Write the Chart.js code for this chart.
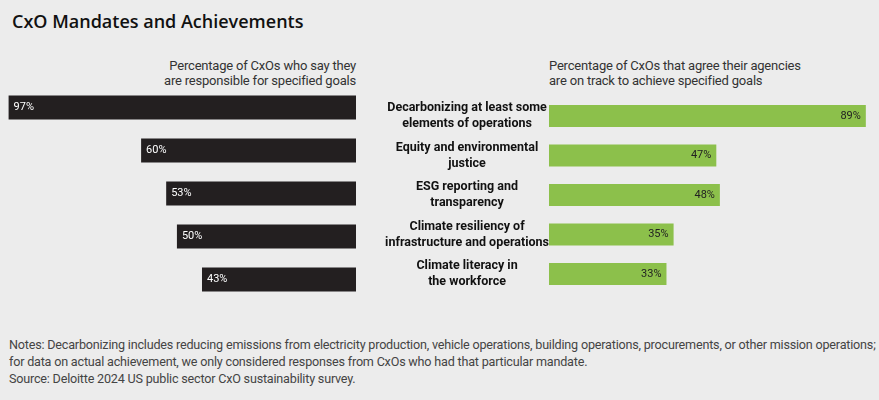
<!DOCTYPE html>
<html><head><meta charset="utf-8">
<script src="https://cdn.jsdelivr.net/npm/chart.js@4"></script>
<style>
body{margin:0;background:#ececec;width:879px;height:400px;position:relative;overflow:hidden;font-family:"Roboto",sans-serif;color:#333}
#title{position:absolute;left:12px;top:9px;font:600 18px "Open Sans",sans-serif;color:#111}
.sub{position:absolute;top:58px;font-size:13px;line-height:15px;color:#333;letter-spacing:-0.2px}
#cl{position:absolute;left:0;top:80px;width:356px;height:230px}
#cr{position:absolute;left:356px;top:80px;width:523px;height:230px}
#notes{position:absolute;left:9px;top:336px;font-size:12.6px;line-height:17px;color:#444;letter-spacing:-0.2px;white-space:nowrap}
</style></head><body>
<div id="title">CxO Mandates and Achievements</div>
<div class="sub" style="right:523px;text-align:right">Percentage of CxOs who say they<br>are responsible for specified goals</div>
<div class="sub" style="left:549px">Percentage of CxOs that agree their agencies<br>are on track to achieve specified goals</div>
<div id="cl"><canvas id="left"></canvas></div>
<div id="cr"><canvas id="right"></canvas></div>
<div id="notes">Notes: Decarbonizing includes reducing emissions from electricity production, vehicle operations, building operations, procurements, or other mission operations;<br>for data on actual achievement, we only considered responses from CxOs who had that particular mandate.<br>Source: Deloitte 2024 US public sector CxO sustainability survey.</div>
<script>
const categories = [
  ["Decarbonizing at least some", "elements of operations"],
  ["Equity and environmental", "justice"],
  ["ESG reporting and", "transparency"],
  ["Climate resiliency of", "infrastructure and operations"],
  ["Climate literacy in", "the workforce"]
];
const responsible = [97, 60, 53, 50, 43];
const onTrack = [89, 47, 48, 35, 33];

const FONT = '"Roboto",sans-serif';

const valueLabels = {
  id: "valueLabels",
  afterDatasetsDraw(chart, args, opts) {
    const ctx = chart.ctx;
    const meta = chart.getDatasetMeta(0);
    ctx.save();
    ctx.font = "11px " + FONT;
    ctx.fillStyle = opts.color;
    ctx.textBaseline = "middle";
    meta.data.forEach((bar, i) => {
      const v = chart.data.datasets[0].data[i] + "%";
      if (opts.side === "left") { ctx.textAlign = "left"; ctx.fillText(v, bar.x + 5, bar.y); }
      else { ctx.textAlign = "right"; ctx.fillText(v, bar.x - 5, bar.y); }
    });
    ctx.restore();
  }
};

function baseOpts(max, reverse) {
  return {
    indexAxis: "y", responsive: true, maintainAspectRatio: false, animation: false,
    layout: { padding: { top: 6, bottom: 9, left: 0, right: 0 } },
    plugins: { legend: { display: false }, tooltip: { enabled: false } },
    scales: {
      x: { min: 0, max: max, reverse: reverse, display: false },
      y: { display: false }
    }
  };
}

const lo = baseOpts(99.4, true);
lo.plugins.valueLabels = { side: "left", color: "#fff" };
new Chart(document.getElementById("left"), {
  type: "bar",
  data: { labels: categories, datasets: [{ data: responsible, backgroundColor: "#231f20", categoryPercentage: 1, barPercentage: 0.56 }] },
  options: lo,
  plugins: [valueLabels]
});

const ro = baseOpts(92.7, false);
ro.scales.y = {
  display: true, position: "left",
  grid: { display: false, drawTicks: false }, border: { display: false },
  afterFit(s) { s.width = 193; },
  ticks: { color: "#111", font: { family: FONT, size: 12.5, weight: "bold", lineHeight: 1.3 }, crossAlign: "center", padding: 0 }
};
ro.plugins.valueLabels = { side: "right", color: "#222" };
new Chart(document.getElementById("right"), {
  type: "bar",
  data: { labels: categories, datasets: [{ data: onTrack, backgroundColor: "#8cc04b", categoryPercentage: 1, barPercentage: 0.56 }] },
  options: ro,
  plugins: [valueLabels]
});
</script></body></html>
